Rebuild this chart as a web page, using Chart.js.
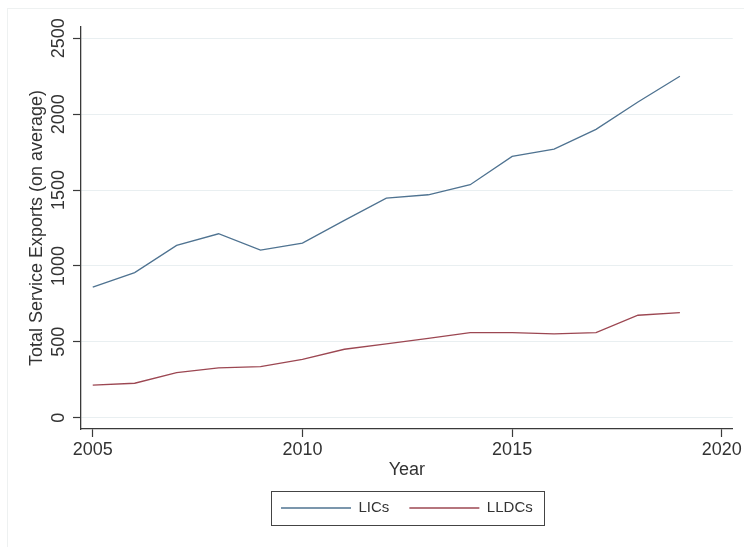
<!DOCTYPE html>
<html>
<head>
<meta charset="utf-8">
<script src="https://cdn.jsdelivr.net/npm/chart.js@4"></script>
<style>
  html, body { margin: 0; padding: 0; background: #fff; }
  #wrap { width: 744px; height: 547px; }
</style>
</head>
<body>
<div id="wrap"><canvas id="myChart" width="744" height="547"></canvas></div>
<script>
// data
const years = [2005, 2006, 2007, 2008, 2009, 2010, 2011, 2012, 2013, 2014, 2015, 2016, 2017, 2018, 2019];
const licValues = [860, 956, 1135, 1212, 1104, 1150, 1300, 1447, 1469, 1535, 1722, 1770, 1900, 2080, 2250];
const lldcValues = [214, 227, 297, 328, 336, 385, 451, 486, 522, 561, 561, 552, 561, 675, 693];
const xTicks = [2005, 2010, 2015, 2020];
const yTicks = [0, 500, 1000, 1500, 2000, 2500];

const FONT = "'Liberation Sans', Arial, Helvetica, sans-serif";
const TEXT = '#333333';
const AXIS = '#3a3a3a';

// faint outer frame + box round the legend
const framePlugin = {
    id: 'frame',
    beforeDraw(chart) {
        const c = chart.ctx;
        c.save();
        c.fillStyle = '#ffffff';
        c.fillRect(0, 0, chart.width, chart.height);
        c.strokeStyle = '#eef1f1';
        c.lineWidth = 1;
        c.strokeRect(7.5, 8.5, chart.width - 6, chart.height - 4);
        c.restore();
    },
    afterDraw(chart) {
        const boxes = chart.legend && chart.legend.legendHitBoxes;
        if (!boxes || !boxes.length) return;
        const first = boxes[0], last = boxes[boxes.length - 1];
        const cy = first.top + first.height / 2;
        const c = chart.ctx;
        c.save();
        c.strokeStyle = '#444';
        c.lineWidth = 1;
        const l = Math.round(first.left - 10) + 0.5;
        const r = Math.round(last.left + last.width + 11) + 0.5;
        c.strokeRect(l, Math.round(cy - 17) + 0.5, r - l, 34);
        c.restore();
    }
};

const ctx = document.getElementById('myChart').getContext('2d');
new Chart(ctx, {
    type: 'line',
    data: {
        datasets: [{
            label: 'LICs',
            data: years.map((y, i) => ({ x: y, y: licValues[i] })),
            borderColor: '#4f7391',
            borderWidth: 1.3,
            pointRadius: 0,
            tension: 0,
            fill: false
        }, {
            label: 'LLDCs',
            data: years.map((y, i) => ({ x: y, y: lldcValues[i] })),
            borderColor: '#9c4752',
            borderWidth: 1.3,
            pointRadius: 0,
            tension: 0,
            fill: false
        }]
    },
    options: {
        responsive: false,
        animation: false,
        devicePixelRatio: 1,
        layout: { padding: { left: 0, right: 9, top: 27, bottom: 21.5 } },
        plugins: {
            tooltip: { enabled: false },
            legend: {
                position: 'bottom',
                fullSize: false,
                labels: {
                    usePointStyle: true,
                    pointStyle: 'line',
                    pointStyleWidth: 70,
                    padding: 20,
                    color: TEXT,
                    font: { family: FONT, size: 15 }
                }
            }
        },
        scales: {
            x: {
                type: 'linear',
                min: 2004.72,
                max: 2020.26,
                afterBuildTicks: s => { s.ticks = xTicks.map(v => ({ value: v })); },
                afterFit: s => { s.height = 51.5; },
                grid: { drawOnChartArea: false, drawTicks: true, tickLength: 8, tickColor: AXIS, tickWidth: 1.2 },
                border: { display: true, color: AXIS, width: 1.3 },
                ticks: {
                    autoSkip: false,
                    maxRotation: 0,
                    padding: 2,
                    color: TEXT,
                    font: { family: FONT, size: 18 },
                    callback: v => String(v)
                },
                title: {
                    display: true,
                    text: 'Year',
                    color: TEXT,
                    font: { family: FONT, size: 18 },
                    padding: { top: 0, bottom: 0 }
                }
            },
            y: {
                type: 'linear',
                min: -74.5,
                max: 2574.5,
                afterBuildTicks: s => { s.ticks = yTicks.map(v => ({ value: v })); },
                afterFit: s => { s.width = 81; },
                grid: { color: '#e9eff1', lineWidth: 1, drawTicks: true, tickLength: 8, tickColor: AXIS, tickWidth: 1.2 },
                border: { display: true, color: AXIS, width: 1.3 },
                ticks: {
                    autoSkip: false,
                    minRotation: 90,
                    maxRotation: 90,
                    crossAlign: 'center',
                    padding: -6,
                    color: TEXT,
                    font: { family: FONT, size: 18 },
                    callback: v => String(v)
                },
                title: {
                    display: true,
                    text: 'Total Service Exports (on average)',
                    color: TEXT,
                    font: { family: FONT, size: 18 },
                    padding: { top: 26, bottom: 0 }
                }
            }
        }
    },
    plugins: [framePlugin]
});
</script>
</body>
</html>
